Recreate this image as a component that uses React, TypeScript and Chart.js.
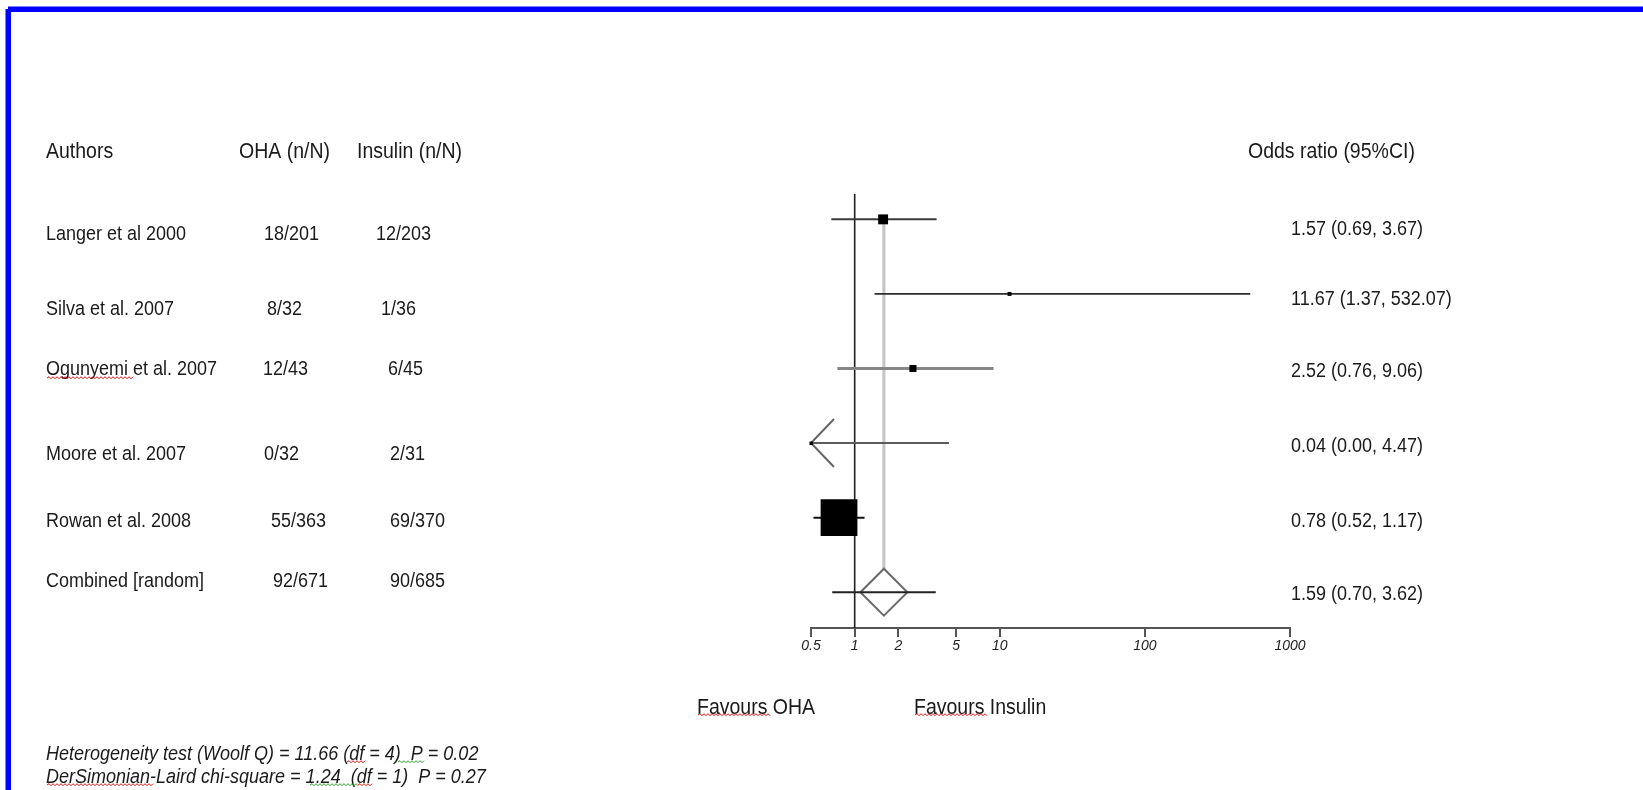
import React, { useEffect, useRef } from 'react';
import { Chart, registerables } from 'chart.js';

Chart.register(...registerables);

// ---------------- data ----------------
const authors = [
  'Langer et al 2000',
  'Silva et al. 2007',
  'Ogunyemi et al. 2007',
  'Moore et al. 2007',
  'Rowan et al. 2008',
  'Combined [random]',
];
const ohaEvents = ['18/201', '8/32', '12/43', '0/32', '55/363', '92/671'];
const insulinEvents = ['12/203', '1/36', '6/45', '2/31', '69/370', '90/685'];
const oddsRatio = [1.57, 11.67, 2.52, 0.04, 0.78, 1.59];
const ciLower = [0.69, 1.37, 0.76, 0.0, 0.52, 0.7];
const ciUpper = [3.67, 532.07, 9.06, 4.47, 1.17, 3.62];
const xTicks = [0.5, 1, 2, 5, 10, 100, 1000];
const headerLabels = ['Authors', 'OHA (n/N)', 'Insulin (n/N)', 'Odds ratio (95%CI)'];
const favourLabels = ['Favours OHA', 'Favours Insulin'];
const footerLines = [
  'Heterogeneity test (Woolf Q) = 11.66 (df = 4)  P = 0.02',
  'DerSimonian-Laird chi-square = 1.24  (df = 1)  P = 0.27',
];

// ---------------- layout / style ----------------
const W = 1643;
const H = 790;
const X_MIN = 0.5;
const X_MAX = 1000;
const Y_MIN = -0.34;
const Y_MAX = 5.48;
const POOLED = 5;
const markerRadius = [7, 2.8, 5, 2.2, 26];
const ciColors = ['#3a3a3a', '#2e2e2e', '#868686', '#5c5c5c', '#111111', '#222222'];
const ciWidths = [2, 1.6, 3, 2, 2, 2];
const TY = 2; // text baseline correction
const tableRowY = [232.5, 307, 367.5, 452, 519, 579.5];
const ohaX = [264, 267, 263, 264, 271, 273];
const insulinX = [376, 381, 388, 390, 390, 390];
const orTextY = [227.5, 297.5, 369, 444, 519, 592.5];
const orTextX = 1291;
const headerX = [46, 239, 357, 1248];
const headerY = 150;
const favourX = [697, 914];
const favourY = 706;
const footerY = [752, 775];
const FONT = '"Liberation Sans", Arial, sans-serif';
const TEXT_COLOR = '#1a1a1a';
const STRETCH = 1.15;
const squiggles: [number, number, number, string][] = [
  [47, 133, 378, '#e01010'],
  [698, 770, 715, '#e01010'],
  [915, 987, 715, '#e01010'],
  [347, 365, 762, '#e01010'],
  [398, 425, 762, '#2a9a2a'],
  [47, 153, 785, '#e01010'],
  [310, 358, 785, '#2a9a2a'],
  [358, 373, 785, '#e01010'],
];

function fmt(v: number) {
  return v.toFixed(2);
}

function drawText(
  ctx: CanvasRenderingContext2D,
  text: string,
  x: number,
  y: number,
  font: string,
) {
  ctx.save();
  ctx.font = font;
  ctx.fillStyle = TEXT_COLOR;
  ctx.textAlign = 'left';
  ctx.textBaseline = 'middle';
  ctx.translate(x, y + TY);
  ctx.scale(1, STRETCH);
  ctx.fillText(text, 0, 0);
  ctx.restore();
}

function squiggle(ctx: CanvasRenderingContext2D, x1: number, x2: number, y: number, color: string) {
  ctx.save();
  ctx.strokeStyle = color;
  ctx.lineWidth = 1;
  ctx.beginPath();
  let up = true;
  ctx.moveTo(x1, y);
  for (let x = x1 + 2; x <= x2; x += 2) {
    ctx.lineTo(x, up ? y - 1.3 : y + 0.7);
    up = !up;
  }
  ctx.stroke();
  ctx.restore();
}

const decorPlugin = {
  id: 'forestDecor',
  beforeDraw(chart: any) {
    const ctx: CanvasRenderingContext2D = chart.ctx;
    ctx.save();
    ctx.fillStyle = '#ffffff';
    ctx.fillRect(0, 0, W, H);
    ctx.fillStyle = '#8080ff';
    ctx.fillRect(8, 6, W - 8, 1);
    ctx.fillRect(5, 9, 1, H - 9);
    ctx.fillStyle = '#0000ff';
    ctx.fillRect(8, 7, W - 8, 5);
    ctx.fillRect(6, 9, 5, H - 9);
    ctx.restore();
  },
  afterDatasetsDraw(chart: any) {
    const ctx: CanvasRenderingContext2D = chart.ctx;
    const xs = chart.scales.x;
    const ys = chart.scales.y;
    ctx.save();
    ctx.strokeStyle = '#666666';
    ctx.lineWidth = 2;
    for (let i = 0; i < oddsRatio.length; i++) {
      if (ciLower[i] < X_MIN) {
        const tx = xs.getPixelForValue(X_MIN);
        const ty = ys.getPixelForValue(i);
        ctx.beginPath();
        ctx.moveTo(tx + 23, ty - 24);
        ctx.lineTo(tx, ty);
        ctx.lineTo(tx + 23, ty + 24);
        ctx.stroke();
        ctx.fillStyle = '#000000';
        ctx.fillRect(tx - 1.5, ty - 1.5, 3.5, 3.5);
      }
    }
    ctx.restore();
  },
  afterDraw(chart: any) {
    const ctx: CanvasRenderingContext2D = chart.ctx;
    const headFont = `19.5px ${FONT}`;
    const rowFont = `18px ${FONT}`;
    headerLabels.forEach((t, i) => drawText(ctx, t, headerX[i], headerY, headFont));
    authors.forEach((a, i) => {
      drawText(ctx, a, 46, tableRowY[i], rowFont);
      drawText(ctx, ohaEvents[i], ohaX[i], tableRowY[i], rowFont);
      drawText(ctx, insulinEvents[i], insulinX[i], tableRowY[i], rowFont);
      drawText(
        ctx,
        `${fmt(oddsRatio[i])} (${fmt(ciLower[i])}, ${fmt(ciUpper[i])})`,
        orTextX,
        orTextY[i],
        rowFont,
      );
    });
    favourLabels.forEach((t, i) => drawText(ctx, t, favourX[i], favourY, headFont));
    footerLines.forEach((t, i) => drawText(ctx, t, 46, footerY[i], `italic 18px ${FONT}`));
    squiggles.forEach(([a, b, y, c]) => squiggle(ctx, a, b, y, c));
  },
};

export default function App() {
  const ref = useRef<HTMLCanvasElement | null>(null);

  useEffect(() => {
    if (!ref.current) return;
    const clip = (v: number) => Math.max(v, X_MIN);
    const datasets: any[] = [];

    // pooled estimate reference line
    datasets.push({
      data: [
        { x: oddsRatio[POOLED], y: 0 },
        { x: oddsRatio[POOLED], y: POOLED },
      ],
      showLine: true,
      borderColor: '#c4c4c4',
      borderWidth: 3,
      pointRadius: 0,
      order: 20,
    });
    // line of no effect
    datasets.push({
      data: [
        { x: 1, y: Y_MIN },
        { x: 1, y: Y_MAX },
      ],
      showLine: true,
      borderColor: '#1e1e1e',
      borderWidth: 1.6,
      pointRadius: 0,
      order: 19,
    });
    // study confidence intervals
    for (let i = 0; i < POOLED; i++) {
      datasets.push({
        data: [
          { x: clip(ciLower[i]), y: i },
          { x: clip(ciUpper[i]), y: i },
        ],
        showLine: true,
        borderColor: ciColors[i],
        borderWidth: ciWidths[i],
        pointRadius: 0,
        order: 10,
      });
    }
    // study point estimates
    datasets.push({
      data: oddsRatio.slice(0, POOLED).map((v, i) => ({ x: clip(v), y: i })),
      pointStyle: 'rect',
      pointRadius: markerRadius,
      backgroundColor: '#000000',
      borderWidth: 0,
      order: 5,
    });
    // pooled diamond
    datasets.push({
      data: [{ x: oddsRatio[POOLED], y: POOLED }],
      pointStyle: 'rectRot',
      pointRadius: 23.5,
      backgroundColor: '#ffffff',
      borderColor: '#6a6a6a',
      borderWidth: 2,
      order: 4,
    });
    // pooled CI
    datasets.push({
      data: [
        { x: clip(ciLower[POOLED]), y: POOLED },
        { x: clip(ciUpper[POOLED]), y: POOLED },
      ],
      showLine: true,
      borderColor: ciColors[POOLED],
      borderWidth: ciWidths[POOLED],
      pointRadius: 0,
      order: 3,
    });

    const chart = new Chart(ref.current, {
      type: 'scatter',
      data: { datasets },
      plugins: [decorPlugin],
      options: {
        responsive: false,
        devicePixelRatio: 1,
        animation: false,
        events: [],
        layout: { padding: { left: 811, right: W - 1290, top: 194, bottom: H - 628 - 30 } },
        plugins: { legend: { display: false }, tooltip: { enabled: false } },
        scales: {
          x: {
            type: 'logarithmic',
            min: X_MIN,
            max: X_MAX,
            bounds: 'data',
            position: 'bottom',
            afterBuildTicks: (s: any) => {
              s.ticks = xTicks.map((v) => ({ value: v }));
            },
            afterFit: (s: any) => {
              s.height = 30;
            },
            grid: {
              drawOnChartArea: false,
              drawTicks: true,
              tickLength: 9,
              color: '#555555',
              lineWidth: 2,
            },
            border: { display: true, color: '#555555', width: 2 },
            ticks: {
              autoSkip: false,
              maxRotation: 0,
              padding: 1,
              color: '#222222',
              font: { family: FONT, size: 14, style: 'italic' },
              callback: (v: any) => String(v),
            },
          },
          y: {
            type: 'linear',
            min: Y_MIN,
            max: Y_MAX,
            reverse: true,
            display: false,
          },
        },
      } as any,
    });
    return () => chart.destroy();
  }, []);

  return (
    <div style={{ position: 'fixed', left: 0, top: 0, width: W, height: H, background: '#fff' }}>
      <canvas ref={ref} width={W} height={H} style={{ display: 'block', width: W, height: H }} />
    </div>
  );
}
